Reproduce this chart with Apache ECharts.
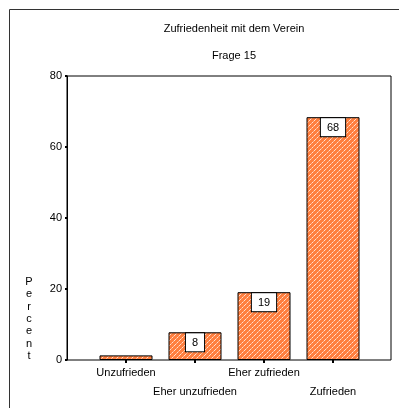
<!DOCTYPE html>
<html>
<head>
<meta charset="utf-8">
<script src="https://cdn.jsdelivr.net/npm/echarts@6/dist/echarts.min.js"></script>
<style>html,body{margin:0;padding:0;background:#fff;}#c{width:399px;height:408px;}</style>
</head>
<body>
<div id="c"></div>
<script>
var categories = ['Unzufrieden', 'Eher unzufrieden', 'Eher zufrieden', 'Zufrieden'];
var percentValues = [1.3, 7.8, 19.1, 68.4];
var showValueLabel = [false, true, true, true];
var yTicks = [0, 20, 40, 60, 80];

var FONT = '"Liberation Sans", Arial, sans-serif';

// hatch pattern
var pc = document.createElement('canvas');
pc.width = 5; pc.height = 5;
var px = pc.getContext('2d');
px.fillStyle = '#ff7f3f';
px.fillRect(0, 0, 5, 5);
for (var i = 0; i < 5; i++) {
  px.fillStyle = (i % 2 === 0) ? 'rgba(255,255,255,0.75)' : 'rgba(255,230,210,0.55)';
  px.fillRect(i, 4 - i, 1, 1);
}

var chart = echarts.init(document.getElementById('c'), null, {renderer: 'canvas'});
chart.setOption({
  animation: false,
  backgroundColor: '#fff',
  textStyle: {fontFamily: FONT},
  title: [
    {text: 'Zufriedenheit mit dem Verein', left: 229, top: 18, textAlign: 'center',
     textStyle: {fontSize: 11, fontWeight: 'normal', color: '#000', fontFamily: FONT}},
    {text: 'Frage 15', left: 229, top: 45, textAlign: 'center',
     textStyle: {fontSize: 11, fontWeight: 'normal', color: '#000', fontFamily: FONT}}
  ],
  graphic: [
    {type: 'rect', shape: {x: 9.5, y: 9.5, width: 420, height: 420},
     style: {fill: 'none', stroke: '#333', lineWidth: 1}, silent: true},
    {type: 'text', x: 29, y: 276,
     style: {text: 'P\ne\nr\nc\ne\nn\nt', textAlign: 'center', fontSize: 11, lineHeight: 12.3,
             fill: '#000', fontFamily: FONT}}
  ],
  grid: [
    {left: 67, top: 76, width: 324, height: 284, show: true, borderColor: '#000', borderWidth: 1, backgroundColor: 'transparent'},
    {left: 91.5, top: 76, width: 276, height: 284}
  ],
  xAxis: [
    {type: 'value', gridIndex: 0, min: 0, max: 1, show: false},
    {type: 'category', gridIndex: 1, data: categories,
     axisLine: {show: false},
     axisTick: {show: true, alignWithLabel: true, length: 3, lineStyle: {color: '#000', width: 2}},
     axisLabel: {color: '#000', fontSize: 11, margin: 3, interval: 0, lineHeight: 19, fontFamily: FONT,
       formatter: function (v, idx) { return idx % 2 === 1 ? '\n' + v : v; }}
    }
  ],
  yAxis: [
    {type: 'value', gridIndex: 0, min: yTicks[0], max: yTicks[yTicks.length - 1], interval: 20,
     axisLine: {show: true, lineStyle: {color: '#000', width: 1}},
     axisTick: {show: true, length: 2, lineStyle: {color: '#000', width: 2}},
     axisLabel: {color: '#000', fontSize: 11, margin: 5, fontFamily: FONT},
     splitLine: {show: false}},
    {type: 'value', gridIndex: 1, min: yTicks[0], max: yTicks[yTicks.length - 1], show: false}
  ],
  series: [{
    type: 'bar',
    xAxisIndex: 1, yAxisIndex: 1,
    barWidth: 53,
    data: percentValues.map(function (v, i) {
      return {value: v, label: {show: showValueLabel[i]}};
    }),
    itemStyle: {color: {image: pc, repeat: 'repeat'}, borderColor: '#000', borderWidth: 1},
    label: {
      show: true, position: 'insideTop', distance: 1,
      formatter: function (p) { return String(Math.round(p.value)); },
      color: '#000', fontSize: 11, fontFamily: FONT,
      backgroundColor: '#fff', borderColor: '#000', borderWidth: 1,
      padding: [3, 6, 2, 6], lineHeight: 13
    }
  }]
});
</script>
</body>
</html>
